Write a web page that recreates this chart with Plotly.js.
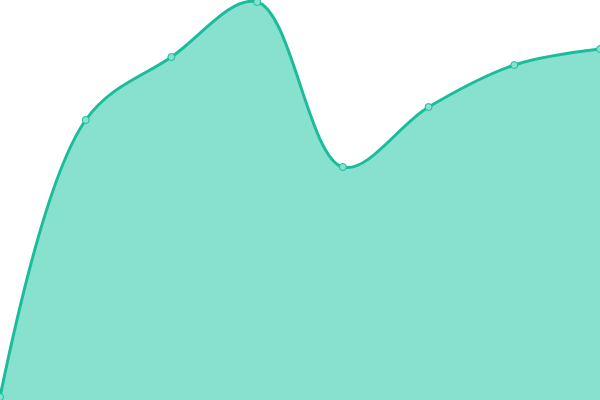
<!DOCTYPE html>
<html>
<head>
<meta charset="utf-8">
<script src="https://cdn.plot.ly/plotly-3.0.1.min.js"></script>
<style>
  html, body { margin: 0; padding: 0; background: #fff; }
  #chart { width: 600px; height: 400px; }
</style>
</head>
<body>
<div id="chart"></div>
<script>
const xs = [0, 1, 2, 3, 4, 5, 6, 7];
const ys = [3, 280, 343, 398, 233, 293, 335, 351];

const LINE = "#1abc9c";
const FILL = "#88e0cf";

var data = [{
  type: "scatter",
  x: xs,
  y: ys,
  mode: "lines+markers",
  fill: "tozeroy",
  fillcolor: FILL,
  line: { color: LINE, width: 3, shape: "spline", smoothing: 1 },
  marker: { size: 7, color: FILL, line: { color: LINE, width: 1 } },
  hoverinfo: "none"
}];

var layout = {
  width: 600,
  height: 400,
  showlegend: false,
  margin: { l: 0, r: 0, t: 0, b: 0 },
  paper_bgcolor: "#fff",
  plot_bgcolor: "#fff",
  xaxis: { range: [0, 7], visible: false, fixedrange: true },
  yaxis: { range: [0, 400], visible: false, fixedrange: true }
};

Plotly.newPlot("chart", data, layout, { displayModeBar: false, staticPlot: true });
</script>
</body>
</html>
